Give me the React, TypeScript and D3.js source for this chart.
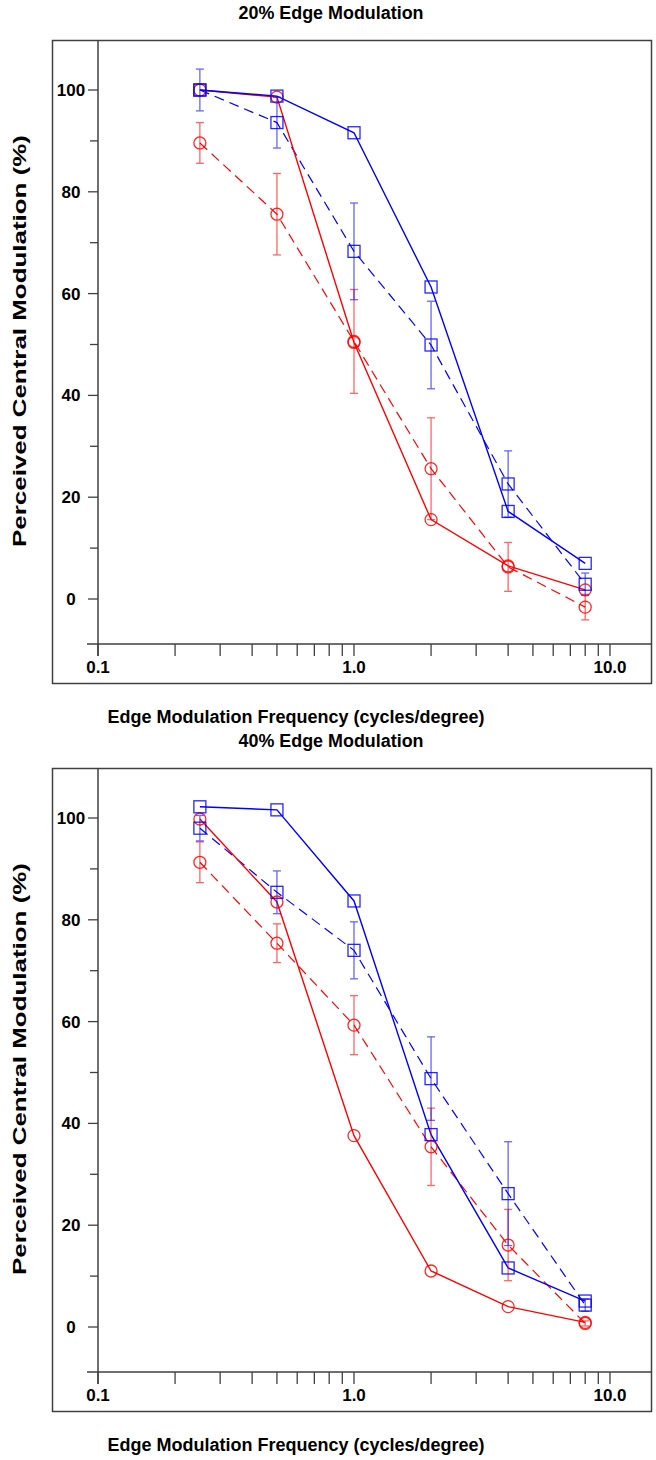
import * as d3 from "d3";

// spatial frequencies (cycles/degree)
const freqs = [0.25, 0.5, 1, 2, 4, 8];

// 20% edge modulation
const blueSolid20 = [100, 98.8, 91.6, 61.3, 17.2, 7.0];
const blueDashed20 = [100, 93.6, 68.3, 49.9, 22.6, 2.9];
const blueErr20 = [4.1, 5, 9.5, 8.6, 6.5, 2.2];
const redSolid20 = [100, 98.6, 50.4, 15.6, 6.5, 1.8];
const redDashed20 = [89.6, 75.6, 50.6, 25.6, 6.3, -1.6];
const redErr20 = [4, 8, 10.2, 10, 4.8, 2.5];

// 40% edge modulation
const blueSolid40 = [102.2, 101.6, 83.7, 37.8, 11.6, 5.1];
const blueDashed40 = [98.0, 85.4, 74.0, 48.8, 26.2, 4.3];
const blueErr40 = [2.5, 4.2, 5.6, 8.2, 10.2, 1.2];
const redSolid40 = [99.8, 83.5, 37.6, 11.0, 4.0, 0.9];
const redDashed40 = [91.3, 75.4, 59.3, 35.4, 16.1, 0.7];
const redErr40 = [4, 3.8, 5.8, 7.6, 7, 0.5];

const yTicks = [0, 20, 40, 60, 80, 100];
const yMinor = [10, 30, 50, 70, 90];
const xLabels = [
  { v: 0.1, t: "0.1" },
  { v: 1, t: "1.0" },
  { v: 10, t: "10.0" },
];

const RED = "#ff0000";
const BLUE = "#0000ff";
const AXIS = "#404040";
const FONT = "'Liberation Sans', Arial, Helvetica, sans-serif";

type PanelProps = {
  title: string;
  top: number;
  blueSolid: number[];
  blueDashed: number[];
  blueErr: number[];
  redSolid: number[];
  redDashed: number[];
  redErr: number[];
};

function Panel({ title, top, blueSolid, blueDashed, blueErr, redSolid, redDashed, redErr }: PanelProps) {
  const x = d3.scaleLog().domain([0.1, 10]).range([98, 610]);
  const y = d3.scaleLinear().domain([0, 100]).range([599, 90]);
  const line = d3
    .line<number>()
    .x((_, i) => x(freqs[i]))
    .y((d) => y(d));

  const errBars = (vals: number[], errs: number[], color: string) =>
    vals.map((v, i) => {
      const cx = x(freqs[i]);
      const y1 = y(v + errs[i]);
      const y2 = y(v - errs[i]);
      return (
        <g key={i} stroke={color} strokeWidth={1.3} opacity={0.6}>
          <line x1={cx} x2={cx} y1={y1} y2={y2} />
          <line x1={cx - 4} x2={cx + 4} y1={y1} y2={y1} />
          <line x1={cx - 4} x2={cx + 4} y1={y2} y2={y2} />
        </g>
      );
    });

  const squares = (vals: number[]) =>
    vals.map((v, i) => (
      <rect
        key={i}
        x={x(freqs[i]) - 6}
        y={y(v) - 6}
        width={12}
        height={12}
        fill="none"
        stroke={BLUE}
        strokeWidth={1.3}
        opacity={0.85}
      />
    ));

  const circles = (vals: number[]) =>
    vals.map((v, i) => (
      <circle
        key={i}
        cx={x(freqs[i])}
        cy={y(v)}
        r={6}
        fill="none"
        stroke={RED}
        strokeWidth={1.3}
        opacity={0.85}
      />
    ));

  return (
    <g transform={`translate(0,${top})`} fontFamily={FONT} fontWeight="bold">
      <text x={331} y={19} textAnchor="middle" fontSize={18} textLength={185} lengthAdjust="spacingAndGlyphs">
        {title}
      </text>

      <rect x={52.5} y={40.5} width={599} height={643} fill="none" stroke={AXIS} strokeWidth={1.5} />
      <line x1={98} x2={98} y1={40} y2={656} stroke={AXIS} strokeWidth={1.5} />
      <line x1={87} x2={651} y1={644} y2={644} stroke={AXIS} strokeWidth={1.5} />

      {yTicks.map((t) => (
        <g key={t}>
          <line x1={88} x2={98} y1={y(t)} y2={y(t)} stroke={AXIS} strokeWidth={1.3} />
          <text x={71} y={y(t) + 6} textAnchor="middle" fontSize={17}>
            {t}
          </text>
        </g>
      ))}
      {yMinor.map((t) => (
        <line key={t} x1={90} x2={98} y1={y(t)} y2={y(t)} stroke={AXIS} strokeWidth={1.3} />
      ))}

      {x.ticks().map((t, i) => (
        <line key={i} x1={x(t)} x2={x(t)} y1={644} y2={656} stroke={AXIS} strokeWidth={1.3} />
      ))}
      {xLabels.map((d) => (
        <text key={d.t} x={x(d.v)} y={673} textAnchor="middle" fontSize={17}>
          {d.t}
        </text>
      ))}

      <text x={296} y={723} textAnchor="middle" fontSize={18} textLength={377} lengthAdjust="spacingAndGlyphs">
        Edge Modulation Frequency (cycles/degree)
      </text>
      <text
        transform={`translate(26,341) rotate(-90)`}
        textAnchor="middle"
        fontSize={18}
        textLength={412}
        lengthAdjust="spacingAndGlyphs"
      >
        Perceived Central Modulation (%)
      </text>

      <path d={line(redDashed) ?? ""} fill="none" stroke={RED} strokeWidth={1.2} strokeDasharray="10,6" />
      <path d={line(blueDashed) ?? ""} fill="none" stroke={BLUE} strokeWidth={1.2} strokeDasharray="10,6" />
      <path d={line(redSolid) ?? ""} fill="none" stroke={RED} strokeWidth={1.4} />
      <path d={line(blueSolid) ?? ""} fill="none" stroke={BLUE} strokeWidth={1.4} />

      {errBars(redDashed, redErr, RED)}
      {errBars(blueDashed, blueErr, BLUE)}

      {circles(redDashed)}
      {circles(redSolid)}
      {squares(blueDashed)}
      {squares(blueSolid)}
    </g>
  );
}

export default function App() {
  return (
    <svg width={656} height={1460} style={{ position: "absolute", left: 0, top: 0, background: "#fff" }}>
      <Panel
        title="20% Edge Modulation"
        top={0}
        blueSolid={blueSolid20}
        blueDashed={blueDashed20}
        blueErr={blueErr20}
        redSolid={redSolid20}
        redDashed={redDashed20}
        redErr={redErr20}
      />
      <Panel
        title="40% Edge Modulation"
        top={728}
        blueSolid={blueSolid40}
        blueDashed={blueDashed40}
        blueErr={blueErr40}
        redSolid={redSolid40}
        redDashed={redDashed40}
        redErr={redErr40}
      />
    </svg>
  );
}
